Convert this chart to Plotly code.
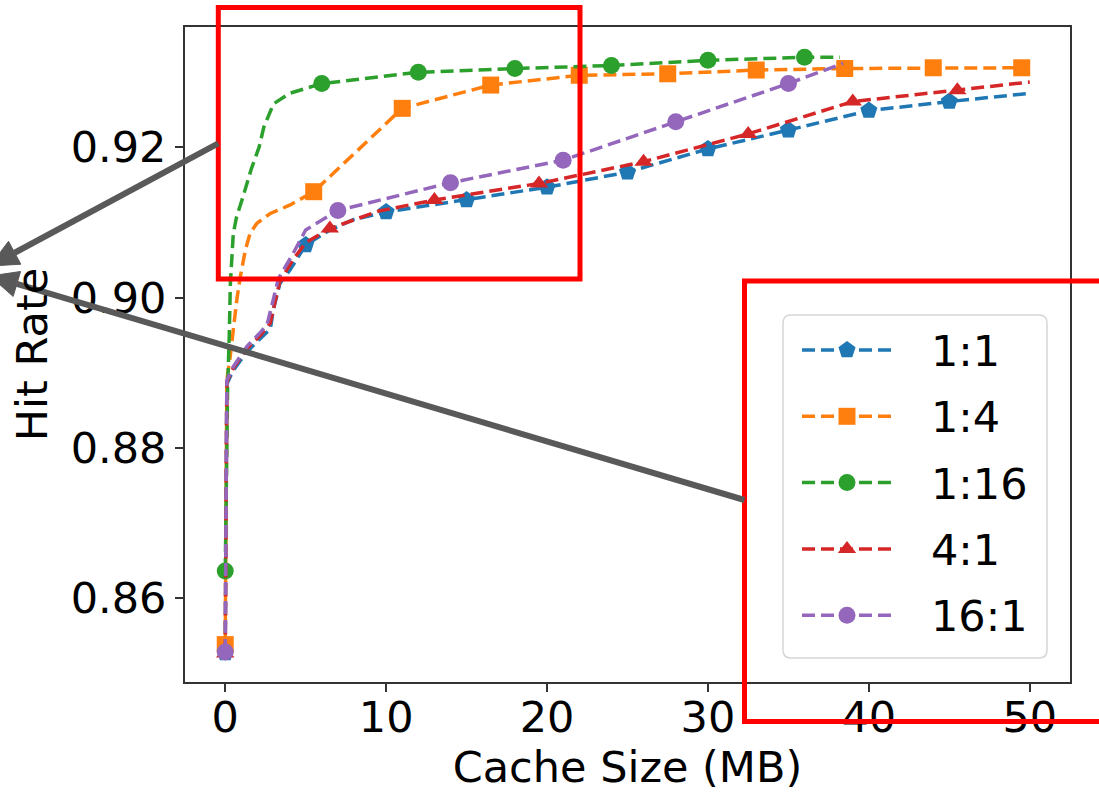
import plotly.graph_objects as go

# ---------------- data ----------------
series_names = ["1:1", "1:4", "1:16", "4:1", "16:1"]

x_1_1 = [0, 0.1, 0.5, 1.35, 2.2, 2.8, 3.0, 3.4, 4.0, 5.0, 6.5, 8.0, 10.0, 15.0, 20.0, 25.0, 30.0, 35.0, 40.0, 45.0, 50.0]
y_1_1 = [0.8527, 0.8885, 0.8903, 0.8928, 0.8946, 0.8958, 0.8985, 0.9019, 0.9036, 0.9070, 0.9090, 0.9104,
         0.9114, 0.9130, 0.9147, 0.9167, 0.9198, 0.9223, 0.9249, 0.9261, 0.9272]
mark_1_1 = [0, 9, 12, 13, 14, 15, 16, 17, 18, 19]

x_1_4 = [0, 0.1, 0.3, 0.5, 0.72, 0.93, 1.25, 1.55, 1.97, 2.8, 4.0, 5.5, 11.0, 16.5, 22.0, 27.5, 33.0, 38.5, 44.0, 49.5]
y_1_4 = [0.8538, 0.8890, 0.8920, 0.8960, 0.8997, 0.9027, 0.9063, 0.9086, 0.9099, 0.9112, 0.9123, 0.9141,
         0.9252, 0.9283, 0.9296, 0.9298, 0.9303, 0.9305, 0.9306, 0.9306]
mark_1_4 = [0, 11, 12, 13, 14, 15, 16, 17, 18, 19]

x_1_16 = [0, 0.15, 0.25, 0.32, 0.5, 0.7, 1.1, 1.6, 2.1, 2.4, 3.0, 4.0, 6.0, 12.0, 18.0, 24.0, 30.0, 36.0, 38.2]
y_1_16 = [0.8636, 0.8880, 0.8950, 0.9019, 0.9085, 0.9107, 0.9134, 0.9170, 0.9200, 0.9227, 0.9258, 0.9272,
          0.9285, 0.9300, 0.9305, 0.9309, 0.9316, 0.9320, 0.9320]
mark_1_16 = [0, 12, 13, 14, 15, 16, 17]

x_4_1 = [0, 0.1, 0.5, 1.35, 2.2, 2.8, 3.1, 3.4, 4.2, 5.0, 6.5, 9.5, 13.0, 19.5, 26.0, 32.5, 39.0, 45.5, 50.0]
y_4_1 = [0.8526, 0.8888, 0.8906, 0.8932, 0.8950, 0.8966, 0.8995, 0.9022, 0.9050, 0.9073, 0.9092, 0.9115,
         0.9130, 0.9152, 0.9181, 0.9218, 0.9261, 0.9276, 0.9287]
mark_4_1 = [0, 10, 12, 13, 14, 15, 16, 17]

x_16_1 = [0, 0.1, 0.5, 1.35, 2.2, 2.6, 2.9, 3.3, 4.2, 5.0, 7.0, 14.0, 21.0, 28.0, 35.0, 38.4]
y_16_1 = [0.8528, 0.8890, 0.8908, 0.8935, 0.8954, 0.8964, 0.8990, 0.9025, 0.9058, 0.9090, 0.9116, 0.9153,
          0.9183, 0.9234, 0.9285, 0.9312]
mark_16_1 = [0, 10, 11, 12, 13, 14]

x_ticks = [0, 10, 20, 30, 40, 50]
y_ticks = [0.86, 0.88, 0.90, 0.92]

# ---------------- styles ----------------
colors = ["#1f77b4", "#ff7f0e", "#2ca02c", "#d62728", "#9467bd"]
symbols = ["pentagon", "square", "circle", "triangle-up", "circle"]
msizes = [18, 17, 17, 16, 17]
FONT = "DejaVu Sans"
FS = 43
DASH = "13px,6px"
LW = 3.5

series = [
    (x_1_1, y_1_1, mark_1_1),
    (x_1_4, y_1_4, mark_1_4),
    (x_1_16, y_1_16, mark_1_16),
    (x_4_1, y_4_1, mark_4_1),
    (x_16_1, y_16_1, mark_16_1),
]

W, H = 1099, 794
ML, MR, MT, MB = 185, 29, 27, 112
PW, PH = W - ML - MR, H - MT - MB


def px(x):
    return (x - ML) / PW


def py(y):
    return (H - MB - y) / PH


fig = go.Figure()

for (xs, ys, marks), c, s, ms in zip(series, colors, symbols, msizes):
    fig.add_trace(go.Scatter(x=xs, y=ys, mode="lines", showlegend=False,
                             line=dict(color=c, width=LW, dash=DASH), hoverinfo="skip"))
    fig.add_trace(go.Scatter(x=[xs[i] for i in marks], y=[ys[i] for i in marks], mode="markers",
                             showlegend=False, marker=dict(color=c, symbol=s, size=ms, line=dict(width=0))))

# ---------------- custom legend (matplotlib-like) ----------------
LEG_BOX = (783, 315, 1047, 658)
LEG_ROW0, LEG_DY = 350, 66.3
LEG_LX0, LEG_LX1, LEG_MX, LEG_TX = 802, 892, 847, 929

for i, (name, c, s, ms) in enumerate(zip(series_names, colors, symbols, msizes)):
    yr = LEG_ROW0 + i * LEG_DY
    fig.add_trace(go.Scatter(x=[LEG_LX0, LEG_LX1], y=[yr, yr], mode="lines", xaxis="x2", yaxis="y2",
                             showlegend=False, hoverinfo="skip",
                             line=dict(color=c, width=LW, dash=DASH)))
    fig.add_trace(go.Scatter(x=[LEG_MX], y=[yr], mode="markers", xaxis="x2", yaxis="y2",
                             showlegend=False, hoverinfo="skip",
                             marker=dict(color=c, symbol=s, size=ms, line=dict(width=0))))

shapes = []
annotations = []

# legend frame with rounded corners
bx0, by0, bx1, by1 = LEG_BOX
rr = 8
path = (f"M {px(bx0 + rr)} {py(by0)} L {px(bx1 - rr)} {py(by0)} "
        f"Q {px(bx1)} {py(by0)} {px(bx1)} {py(by0 + rr)} L {px(bx1)} {py(by1 - rr)} "
        f"Q {px(bx1)} {py(by1)} {px(bx1 - rr)} {py(by1)} L {px(bx0 + rr)} {py(by1)} "
        f"Q {px(bx0)} {py(by1)} {px(bx0)} {py(by1 - rr)} L {px(bx0)} {py(by0 + rr)} "
        f"Q {px(bx0)} {py(by0)} {px(bx0 + rr)} {py(by0)} Z")
shapes.append(dict(type="path", xref="paper", yref="paper", path=path, layer="below",
                   fillcolor="rgba(255,255,255,0.8)", line=dict(color="#d6d6d6", width=1.5)))

for i, name in enumerate(series_names):
    yr = LEG_ROW0 + i * LEG_DY
    annotations.append(dict(xref="paper", yref="paper", x=px(LEG_TX), y=py(yr + 1), text=name,
                            showarrow=False, xanchor="left", yanchor="middle",
                            font=dict(family=FONT, size=FS, color="black")))

# red highlight rectangles
for (x0, y0, x1, y1) in [(218.3, 7.5, 580, 279), (744.5, 281, 1115, 721.5)]:
    shapes.append(dict(type="rect", xref="paper", yref="paper", x0=px(x0), x1=px(x1),
                       y0=py(y0), y1=py(y1), line=dict(color="#ff0000", width=5),
                       fillcolor="rgba(0,0,0,0)", layer="above"))

# grey arrows
ARROW_C = "#595959"
HEAD_L, HEAD_W = 28, 13
for (tx, ty, hx, hy) in [(218.3, 143.3, -10, 266), (744.5, 500, -10, 276)]:
    dx, dy = tx - hx, ty - hy
    n = (dx * dx + dy * dy) ** 0.5
    ux, uy = dx / n, dy / n
    bx, by = hx + HEAD_L * ux, hy + HEAD_L * uy
    shapes.append(dict(type="line", xref="paper", yref="paper", x0=px(tx), y0=py(ty),
                       x1=px(bx), y1=py(by), line=dict(color=ARROW_C, width=6), layer="above"))
    c1 = (bx - HEAD_W * uy, by + HEAD_W * ux)
    c2 = (bx + HEAD_W * uy, by - HEAD_W * ux)
    p = f"M {px(hx)} {py(hy)} L {px(c1[0])} {py(c1[1])} L {px(c2[0])} {py(c2[1])} Z"
    shapes.append(dict(type="path", xref="paper", yref="paper", path=p, fillcolor=ARROW_C,
                       line=dict(color=ARROW_C, width=1), layer="above"))

axis_common = dict(showgrid=False, zeroline=False, showline=True, mirror=True,
                   linecolor="#333333", linewidth=2, ticks="outside", ticklen=8, tickwidth=2,
                   tickcolor="#333333", tickfont=dict(family=FONT, size=FS, color="black"))

fig.update_layout(
    width=W, height=H,
    margin=dict(l=ML, r=MR, t=MT, b=MB, autoexpand=False),
    paper_bgcolor="white", plot_bgcolor="white",
    showlegend=False,
    font=dict(family=FONT, size=FS, color="black"),
    xaxis=dict(range=[-2.5, 52.5], tickvals=x_ticks, automargin=False, ticklabelstandoff=-12,
               title=dict(text="Cache Size (MB)", font=dict(family=FONT, size=FS), standoff=4),
               **axis_common),
    yaxis=dict(range=[0.84882, 0.93603], tickvals=y_ticks, tickformat=".2f", automargin=False,
               title=dict(text="Hit Rate", font=dict(family=FONT, size=FS), standoff=10),
               **axis_common),
    xaxis2=dict(overlaying="x", anchor="y2", range=[ML, W - MR], visible=False, fixedrange=True),
    yaxis2=dict(overlaying="y", anchor="x2", range=[H - MB, MT], visible=False, fixedrange=True),
    shapes=shapes,
    annotations=annotations,
)

fig.write_html("out.html", config={"displayModeBar": False},
               post_script="document.body.style.margin='0px';document.body.style.overflow='hidden';")
